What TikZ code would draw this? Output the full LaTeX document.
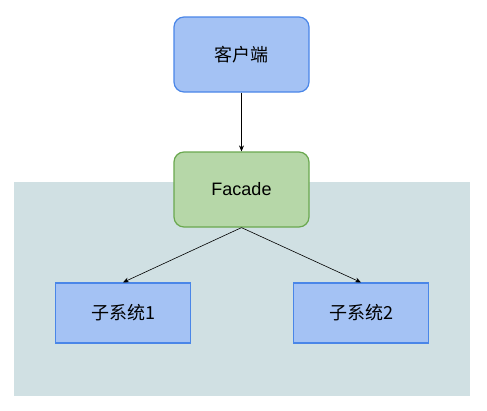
\documentclass[tikz,border=0pt]{standalone}
\usepackage{fontspec}
\setmainfont{Liberation Sans}
\newfontfamily\cjk{Noto Sans CJK SC}
\usetikzlibrary{arrows.meta}
\definecolor{bluefill}{HTML}{A4C2F4}
\definecolor{blueline}{HTML}{4A86E8}
\definecolor{greenfill}{HTML}{B6D7A8}
\definecolor{greenline}{HTML}{6AA84F}
\definecolor{bgcol}{HTML}{D0E0E3}
\tikzset{
  rbox/.style={draw=blueline, fill=bluefill, line width=1.2pt, rounded corners=10pt,
    minimum width=135pt, minimum height=75pt, inner sep=0pt, font=\fontsize{18}{21}\selectfont},
  gbox/.style={draw=greenline, fill=greenfill, line width=1.2pt, rounded corners=10pt,
    minimum width=135pt, minimum height=75pt, inner sep=0pt, font=\fontsize{18}{21}\selectfont},
  sbox/.style={draw=blueline, fill=bluefill, line width=1.2pt,
    minimum width=135pt, minimum height=60pt, inner sep=0pt, font=\fontsize{18}{21}\selectfont},
  conn/.style={draw=black, line width=0.6pt, -{Stealth[length=6pt,width=5pt]}}
}
\begin{document}
\begin{tikzpicture}[x=1pt,y=-1pt]
\useasboundingbox (0,0) rectangle (487,410);
\fill[bgcol] (14,182) rectangle (470,396);
\node[rbox] (client) at (241.5,54.5) {\cjk 客户端};
\node[gbox] (facade) at (241.5,189.5) {Facade};
\node[sbox] (s1) at (123,313) {\cjk 子系统1};
\node[sbox] (s2) at (361,313) {\cjk 子系统2};
\draw[conn] (client.south) -- (facade.north);
\draw[conn] (facade.south) -- (s1.north);
\draw[conn] (facade.south) -- (s2.north);
\end{tikzpicture}
\end{document}
